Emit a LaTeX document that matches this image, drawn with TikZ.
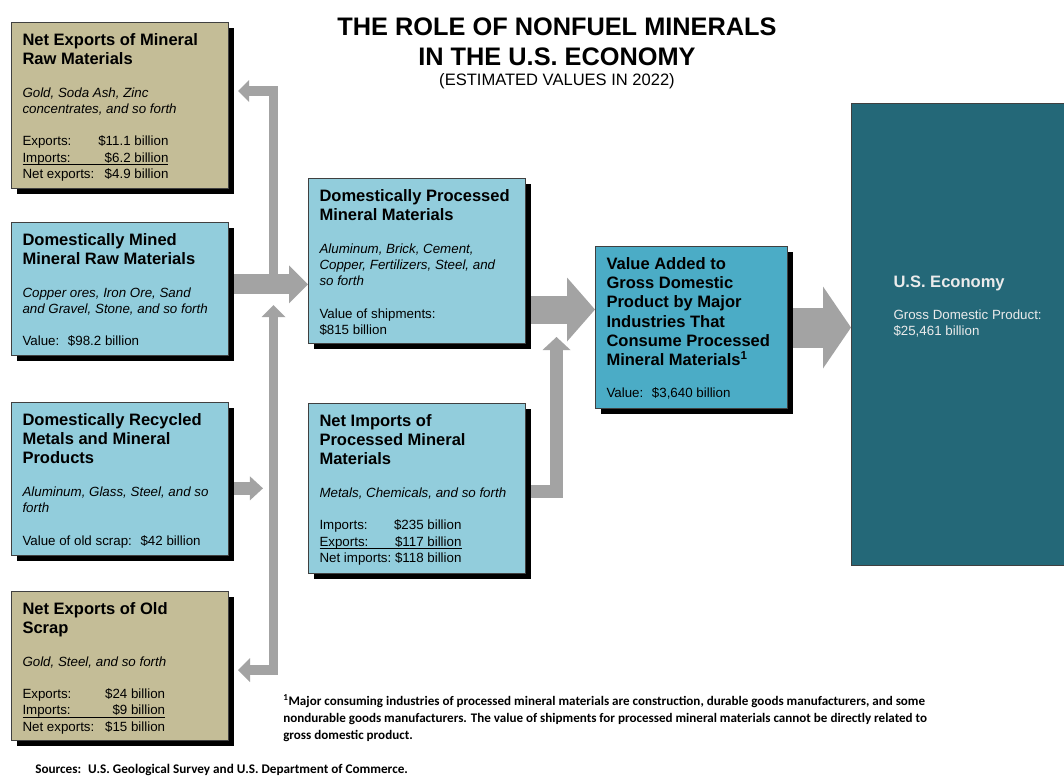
\documentclass[tikz,border=0pt]{standalone}
\usepackage{fontspec}
\setmainfont{Liberation Sans}
\newfontfamily\notefont{Carlito}
\usepackage{tikz}
\usetikzlibrary{arrows.meta, shadows}

\definecolor{tanfill}{RGB}{196,189,151}
\definecolor{bluefill}{RGB}{146,205,220}
\definecolor{tealfill}{RGB}{75,172,198}
\definecolor{econfill}{RGB}{36,104,120}
\definecolor{flowgray}{RGB}{163,163,163}
\definecolor{edgegray}{RGB}{64,64,64}

\newcommand{\headfont}{\fontsize{12.4}{14.4}\selectfont\bfseries}
\newcommand{\bodyfont}{\fontsize{10}{12.3}\selectfont}
\newcommand{\gap}{\par\vspace{12pt}}
\newcommand{\boxtext}[3]{\begin{minipage}[c][#2][t]{#1}\raggedright#3\end{minipage}}
\newcommand{\trade}[3]{\leavevmode\hbox to #1{#2\hfill#3}}
\newcommand{\tradeul}[3]{\leavevmode\hbox to #1{#2\hfill#3}\llap{\rule[-2pt]{#1}{0.6pt}}}

\tikzstyle{panel} = [rectangle, draw=edgegray, line width=0.75pt, anchor=north west, inner sep=8.25pt, drop shadow={fill=black, opacity=1, shadow xshift=3.75pt, shadow yshift=-3.75pt}]
\tikzstyle{tanbox} = [panel, fill=tanfill]
\tikzstyle{bluebox} = [panel, fill=bluefill]
\tikzstyle{valuebox} = [panel, fill=tealfill]
\tikzstyle{econbox} = [rectangle, draw=edgegray, line width=0.75pt, fill=econfill, anchor=north west, inner xsep=31.5pt, inner ysep=8.25pt, text=white!92!black]
\tikzstyle{flow} = [draw=flowgray, line join=miter, shorten <=3.75pt]
\tikzstyle{barflow} = [flow, line width=7pt, -{Triangle[width=16.5pt, length=8.25pt, line width=0pt]}, shorten >=6.75pt]
\tikzstyle{sideflow} = [flow, line width=7pt, {Triangle[width=18pt, length=9pt, line width=0pt]}-{Triangle[width=18pt, length=9pt, line width=0pt]}, shorten <=6.75pt]
\tikzstyle{smallflow} = [flow, line width=9.75pt, -{Triangle[width=18pt, length=9.75pt, line width=0pt]}]
\tikzstyle{importflow} = [flow, line width=9.75pt, -{Triangle[width=21pt, length=9.75pt, line width=0pt]}]
\tikzstyle{bigflow} = [flow, line width=15pt, -{Triangle[width=28.5pt, length=14.25pt, line width=0pt]}]
\tikzstyle{widerflow} = [flow, line width=21pt, -{Triangle[width=48pt, length=21pt, line width=0pt]}]
\tikzstyle{widestflow} = [flow, line width=30pt, -{Triangle[width=61.5pt, length=21pt, line width=0pt]}]

\begin{document}
\begin{tikzpicture}[x=0.75pt, y=-0.75pt]

\path [use as bounding box, clip] (0,0) rectangle (1064,778);

\node (title) [anchor=north, align=center, font=\fontsize{19}{22.5}\selectfont\bfseries] at (557,13) {THE ROLE OF NONFUEL MINERALS\\IN THE U.S. ECONOMY};
\node (subtitle) [anchor=base, font=\fontsize{12.4}{15}\selectfont] at (557,85) {(ESTIMATED VALUES IN 2022)};

\node (netraw) [tanbox] at (11,22) {\boxtext{146.25pt}{108pt}{%
{\headfont Net Exports of Mineral\\Raw Materials\par}\gap
{\bodyfont\itshape Gold, Soda Ash, Zinc\\concentrates, and so forth\par}\gap
{\bodyfont\trade{109.5pt}{Exports:}{\$11.1 billion}\\\tradeul{109.5pt}{Imports:}{\$6.2 billion}\\\trade{109.5pt}{Net exports:}{\$4.9 billion}\par}}};
\node (mined) [bluebox] at (11,222) {\boxtext{146.25pt}{83.25pt}{%
{\headfont Domestically Mined\\Mineral Raw Materials\par}\gap
{\bodyfont\itshape Copper ores, Iron Ore, Sand\\and Gravel, Stone, and so forth\par}\gap
{\bodyfont Value:~ \$98.2 billion\par}}};
\node (recyc) [bluebox] at (11,402) {\boxtext{146.25pt}{98.25pt}{%
{\headfont Domestically Recycled\\Metals and Mineral\\Products\par}\gap
{\bodyfont\itshape Aluminum, Glass, Steel, and so\\forth\par}\gap
{\bodyfont Value of old scrap:~ \$42 billion\par}}};
\node (scrap) [tanbox] at (11,591) {\boxtext{146.25pt}{95.25pt}{%
{\headfont Net Exports of Old\\Scrap\par}\gap
{\bodyfont\itshape Gold, Steel, and so forth\par}\gap
{\bodyfont\trade{107pt}{Exports:}{\$24 billion}\\\tradeul{107pt}{Imports:}{\$9 billion}\\\trade{107pt}{Net exports:}{\$15 billion}\par}}};
\node (proc) [bluebox] at (308,178) {\boxtext{146.25pt}{107.25pt}{%
{\headfont Domestically Processed\\Mineral Materials\par}\gap
{\bodyfont\itshape Aluminum, Brick, Cement,\\Copper, Fertilizers, Steel, and\\so forth\par}\gap
{\bodyfont Value of shipments:\\\$815 billion\par}}};
\node (netimp) [bluebox] at (308,403) {\boxtext{146.25pt}{111pt}{%
{\headfont Net Imports of\\Processed Mineral\\Materials\par}\gap
{\bodyfont\itshape Metals, Chemicals, and so forth\par}\gap
{\bodyfont\trade{106.5pt}{Imports:}{\$235 billion}\\\tradeul{106.5pt}{Exports:}{\$117 billion}\\\trade{106.5pt}{Net imports:}{\$118 billion}\par}}};
\node (value) [valuebox] at (595,246) {\boxtext{127.5pt}{105pt}{%
{\headfont Value Added to\\Gross Domestic\\Product by Major\\Industries That\\Consume Processed\\Mineral Materials\textsuperscript{1}\par}\gap
{\bodyfont Value:~ \$3,640 billion\par}}};
\node (econ) [econbox] at (851,103) {\boxtext{135pt}{330pt}{\vspace*{120.75pt}%
{\headfont U.S. Economy\par}\gap
{\bodyfont Gross Domestic Product:\\\$25,461 billion\par}}};

\coordinate (bus) at (273.5,284);
\coordinate (bend) at (273.5,91);
\coordinate (uptip) at (273.5,305);
\coordinate (vtip) at (556.5,337);

\draw [bigflow] ([yshift=3.4pt]mined.east) -- ([yshift=3.4pt]mined.east -| proc.west);
\draw [barflow] (bus) -- (bend) -- (bend -| netraw.east);
\draw [sideflow] ([yshift=-3pt]scrap.east) -| (uptip);
\draw [smallflow, shorten >=7.9pt] ([yshift=-7pt]recyc.east) -- ([yshift=-7pt]recyc.east -| bus);
\draw [widerflow] ([yshift=-36.4pt]proc.east) -- ([yshift=-36.4pt]proc.east -| value.west);
\draw [importflow] ([yshift=-2.6pt]netimp.east) -| (vtip);
\draw [widestflow] (value.east) -- (value.east -| econ.west);

\node (note) [anchor=north west, align=left, inner sep=0pt, font=\notefont\bfseries\fontsize{9.8}{12.75}\selectfont] at (283,694) {\textsuperscript{1}Major consuming industries of processed mineral materials are construction, durable goods manufacturers, and some\\nondurable goods manufacturers. The value of shipments for processed mineral materials cannot be directly related to\\gross domestic product.};
\node (sources) [anchor=base west, inner sep=0pt, font=\notefont\bfseries\fontsize{9.9}{12}\selectfont] at (35,773) {Sources:~ U.S. Geological Survey and U.S. Department of Commerce.};

\end{tikzpicture}
\end{document}
